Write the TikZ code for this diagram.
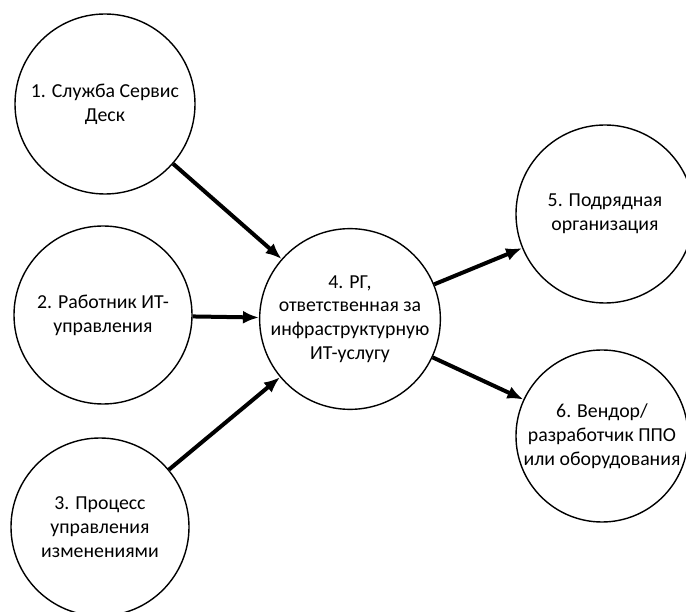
\documentclass[tikz,border=0pt]{standalone}
\usepackage{fontspec}
\setmainfont{Carlito}
\usetikzlibrary{arrows.meta}
\tikzset{
  bubble/.style={circle, draw=black, line width=1.4pt, inner sep=0pt,
    align=center, font=\fontsize{19.8}{23.8}\selectfont},
  conn/.style={line width=4pt, -{Latex[length=16pt,width=13pt]}}
}
\begin{document}
\begin{tikzpicture}[x=1pt,y=-1pt]
  \useasboundingbox (0,0) rectangle (686,612);
  \clip (0,0) rectangle (686,612);
  \fill[white] (0,0) rectangle (686,612);

  % sources on the left
  \node[bubble, minimum size=180pt] (c1) at (105,104) {1. Служба Сервис\\Деск};
  \node[bubble, minimum size=178pt] (c2) at (103,315) {2. Работник ИТ-\\управления};
  \node[bubble, minimum size=178pt] (c3) at (100,527) {3. Процесс\\управления\\изменениями};

  % central working group
  \node[bubble, minimum size=174pt] (c4) at (350,319) {4. РГ,\\ответственная за\\инфраструктурную\\ИТ-услугу};

  % external parties on the right
  \node[bubble, minimum size=178pt] (c5) at (605,214) {5. Подрядная\\организация};
  \node[bubble, minimum size=172pt] (c6) at (602,436) {6. Вендор/\\разработчик ППО\\или оборудования};

  % connectors
  \draw[conn] (c1) -- (c4);
  \draw[conn] (c2) -- (c4);
  \draw[conn] (c3) -- (c4);
  \draw[conn] (c4) -- (c5);
  \draw[conn] (c4) -- (c6);
\end{tikzpicture}
\end{document}
